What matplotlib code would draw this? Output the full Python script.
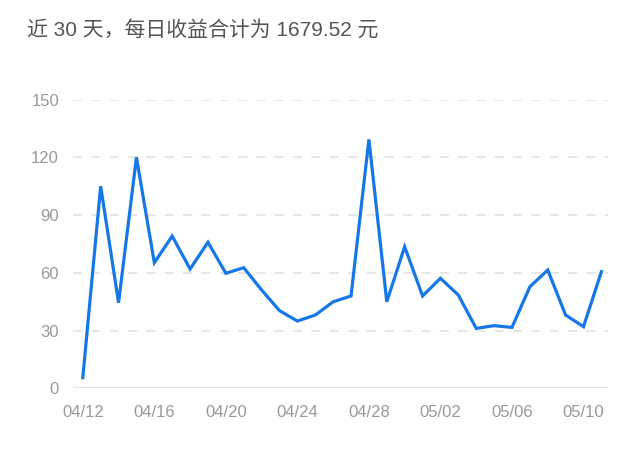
import matplotlib
matplotlib.use("Agg")
import matplotlib.pyplot as plt

plt.rcParams['font.family'] = ['Liberation Sans', 'Noto Sans CJK SC', 'DejaVu Sans']

dates = ["04/12", "04/13", "04/14", "04/15", "04/16", "04/17", "04/18", "04/19", "04/20", "04/21",
         "04/22", "04/23", "04/24", "04/25", "04/26", "04/27", "04/28", "04/29", "04/30", "05/01",
         "05/02", "05/03", "05/04", "05/05", "05/06", "05/07", "05/08", "05/09", "05/10", "05/11"]
values = [5.6, 105.0, 44.5, 120.0, 65.3, 79.1, 62.0, 75.9, 59.8, 62.7,
          51.1, 40.4, 35.0, 38.1, 45.0, 48.0, 129.3, 45.0, 73.6, 48.0,
          57.2, 48.5, 31.2, 32.6, 31.7, 52.8, 61.5, 38.1, 32.1, 60.6]
yticks = [0, 30, 60, 90, 120, 150]
title = "近 30 天，每日收益合计为 1679.52 元"

fig = plt.figure(figsize=(6.4, 4.63), dpi=100)
ax = fig.add_axes([0.114, 0.161, 0.836, 0.624])

x = list(range(len(values)))
ax.plot(x, values, color='#1677e6', linewidth=2.3, solid_joinstyle='miter', zorder=3)

ax.set_ylim(0, 150)
ax.set_xlim(-0.55, 29.37)
ax.set_yticks(yticks)
ax.set_yticklabels([str(v) for v in yticks])
xt = list(range(0, len(dates), 4))
ax.set_xticks(xt)
ax.set_xticklabels([dates[i] for i in xt])

for v in yticks[1:]:
    ax.axhline(v, color='#e2e2e2', linewidth=1.2, linestyle=(0, (5.5, 5.5)), zorder=1)
ax.axhline(0, color='#e2e2e2', linewidth=1.5, zorder=1)

for s in ax.spines.values():
    s.set_visible(False)
ax.tick_params(axis='both', length=0, labelsize=12, colors='#999999')
ax.tick_params(axis='y', pad=10)
ax.tick_params(axis='x', pad=12)

fig.text(0.042, 0.935, title, fontsize=15, color='#555555', va='center', ha='left')

fig.savefig('out.png', dpi=100)
